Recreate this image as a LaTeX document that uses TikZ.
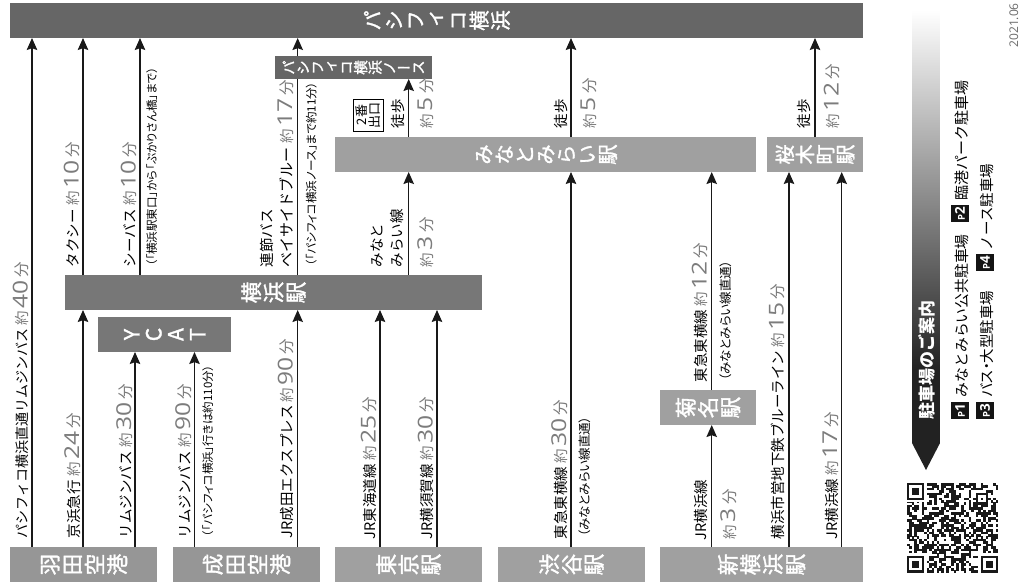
\documentclass[tikz,border=0pt]{standalone}
\usepackage{fontspec}
\usepackage{graphicx}
\setmainfont{Noto Sans CJK JP}
\newfontfamily\vertfont[RawFeature={+vert},FakeBold=1.5]{Noto Sans CJK JP}
\newfontfamily\notefont[RawFeature={+palt}]{Noto Sans CJK JP}
\newfontfamily\numfont[FakeStretch=1.2]{Open Sans}
\newfontfamily\datefont{Open Sans}
\definecolor{topbar}{HTML}{666666}
\definecolor{midbar}{HTML}{777777}
\definecolor{airbar}{HTML}{969696}
\definecolor{stabar}{HTML}{A0A0A0}
\definecolor{timegray}{HTML}{7C7C7C}
\definecolor{gdark}{HTML}{222222}
\pgfdeclareverticalshading{guideshade}{100bp}{color(0bp)=(gdark);color(25bp)=(gdark);color(36bp)=(gdark);color(75bp)=(white);color(100bp)=(white)}
\usetikzlibrary{arrows.meta}
\makeatletter
\newcommand{\vt}[2]{\@tfor\vch:=#2\do{\makebox[#1]{\rotatebox{90}{\rule[-0.12em]{0pt}{1em}\makebox[1em]{\vch}}}}}
\makeatother
\newcommand{\fs}[1]{\fontsize{#1pt}{#1pt}\selectfont}
\newcommand{\tm}[1]{{\color{timegray}\fs{14.5}約\kern2.5pt{\numfont\fs{20.5}#1}\kern3pt{\fs{15.5}分}}}
\tikzset{
  barbox/.style={inner sep=0pt,outer sep=0pt,text=white,font=\vertfont},
  conn/.style={line width=1.3pt,draw=black!90,-{Stealth[length=12pt,width=10.5pt,inset=1.8pt]}},
  plainconn/.style={line width=1.3pt,draw=black!90},
  lab/.style={rotate=90,anchor=base west,inner sep=0pt,outer sep=0pt,font=\fs{14.5}},
  notelab/.style={rotate=90,anchor=base west,inner sep=0pt,outer sep=0pt,font=\notefont\fs{11.5}},
  pchip/.style={rotate=90,fill=black!92,text=white,inner sep=0pt,minimum width=17pt,minimum height=18pt,font=\datefont\bfseries\fs{13.5}},
}
\newcommand{\lnk}[3]{\draw[conn] (#1,0 |- #2.north) -- (#1,0 |- #3.south);}
\newcommand{\lbl}[4]{\node[lab] (#1) at (#2,#3) {#4};}
\newcommand{\nte}[4]{\node[notelab] (#1) at (#2,#3) {#4};}
\newcommand{\pk}[1]{{\fs{9.5}P}#1}
\begin{document}
\begin{tikzpicture}[x=1pt,y=-1pt]
\useasboundingbox[fill=white] (0,0) rectangle (1019,582);
% bars
\node[barbox,fill=topbar,minimum width=853pt,minimum height=35pt] (pacifico) at (436.5,20.5) {\fs{20.5}\vt{21.3pt}{パシフィコ横浜}};
\node[barbox,fill=topbar,minimum width=157pt,minimum height=23pt] (north) at (353.5,67.5) {\fs{14.5}\vt{14.4pt}{パシフィコ横浜ノース}};
\node[barbox,fill=midbar,minimum width=417pt,minimum height=35pt] (yokohama) at (273.5,292.5) {\fs{21.5}\vt{22.3pt}{横浜駅}};
\node[barbox,fill=midbar,minimum width=133pt,minimum height=35pt] (ycat) at (164.5,334.5) {\fs{21}\vt{22pt}{YCAT}};
\node[barbox,fill=airbar,minimum width=147pt,minimum height=35pt] (haneda) at (83.5,564.5) {\fs{21.5}\vt{22.5pt}{羽田空港}};
\node[barbox,fill=airbar,minimum width=147pt,minimum height=35pt] (narita) at (246.5,564.5) {\fs{21.5}\vt{22.5pt}{成田空港}};
\node[barbox,fill=stabar,minimum width=147pt,minimum height=35pt] (tokyo) at (408.5,564.5) {\fs{21.5}\vt{22.3pt}{東京駅}};
\node[barbox,fill=stabar,minimum width=147pt,minimum height=35pt] (shibuya) at (571.5,564.5) {\fs{21.5}\vt{22.3pt}{渋谷駅}};
\node[barbox,fill=stabar,minimum width=203pt,minimum height=35pt] (shinyoko) at (761.5,564.5) {\fs{21.5}\vt{22.5pt}{新横浜駅}};
\node[barbox,fill=stabar,minimum width=96pt,minimum height=35pt] (kikuna) at (708,407.5) {\fs{21.5}\vt{22.3pt}{菊名駅}};
\node[barbox,fill=stabar,minimum width=421pt,minimum height=35pt] (minato) at (545.5,154.5) {\fs{20.5}\vt{20.7pt}{みなとみらい駅}};
\node[barbox,fill=stabar,minimum width=96pt,minimum height=35pt] (sakuragi) at (815,154.5) {\fs{20}\vt{20.2pt}{桜木町駅}};
% connectors
\lnk{32}{haneda}{pacifico}
\lnk{83}{yokohama}{pacifico}
\lnk{140}{yokohama}{pacifico}
\draw[plainconn] (297.7,0 |- yokohama.north) -- (297.7,0 |- north.south);
\lnk{297.7}{north}{pacifico}
\lnk{408.7}{minato}{north}
\lnk{571}{minato}{pacifico}
\lnk{815}{sakuragi}{pacifico}
\lnk{408.7}{yokohama}{minato}
\lnk{571}{shibuya}{minato}
\lnk{711.7}{kikuna}{minato}
\lnk{711.7}{shinyoko}{kikuna}
\lnk{789}{shinyoko}{sakuragi}
\lnk{841.7}{shinyoko}{sakuragi}
\lnk{83}{haneda}{yokohama}
\lnk{135}{haneda}{ycat}
\lnk{194.5}{narita}{ycat}
\lnk{297.7}{narita}{yokohama}
\lnk{380}{tokyo}{yokohama}
\lnk{437}{tokyo}{yokohama}
% labels
\lbl{l1}{27.5}{538}{\fs{14}パシフィコ横浜直通リムジンバス \tm{40}}
\lbl{l2}{78.5}{267}{タクシー \tm{10}}
\lbl{l3}{135.5}{267}{シーバス \tm{10}}
\nte{n3}{156}{266}{（「横浜駅東口」から「ぷかりさん橋」まで）}
\lbl{l4a}{272}{267}{連節バス}
\lbl{l4b}{292}{267}{\fs{15}ベイサイドブルー \tm{17}}
\nte{n4}{315.5}{266}{（「パシフィコ横浜ノース」まで約11分）}
\lbl{l5}{79}{538}{京浜急行 \tm{24}}
\lbl{l6}{131}{538}{リムジンバス \tm{30}}
\lbl{l7}{190}{538}{リムジンバス \tm{90}}
\nte{n7}{212}{537}{（「パシフィコ横浜」行きは約110分）}
\lbl{l8}{292.5}{538}{JR成田エクスプレス \tm{90}}
\lbl{l9a}{382}{267}{みなと}
\lbl{l9b}{402.5}{267}{みらい線}
\lbl{l9c}{432}{267}{\tm{3}}
\node[rotate=90,draw=black,line width=0.7pt,fill=white,inner sep=0pt,minimum width=32pt,minimum height=30pt,align=center,font=\fs{13}] (exit2) at (368,115) {\baselineskip=13pt 2番\\出口};
\lbl{l10a}{403}{128}{徒歩}
\lbl{l10b}{432}{128}{\tm{5}}
\lbl{l11a}{566}{128}{徒歩}
\lbl{l11b}{595}{128}{\tm{5}}
\lbl{l12a}{809}{128}{徒歩}
\lbl{l12b}{838.5}{128}{\tm{12}}
\lbl{l13}{375.5}{539}{JR東海道線 \tm{25}}
\lbl{l14}{432.5}{539}{JR横須賀線 \tm{30}}
\lbl{l15}{566}{539}{東急東横線 \tm{30}}
\node[notelab,font=\notefont\fs{12.5}] (n15) at (589,537) {（みなとみらい線直通）};
\lbl{l16}{706.5}{540}{JR横浜線}
\lbl{l16b}{735}{539}{\tm{3}}
\lbl{l17}{706.5}{382}{東急東横線 \tm{12}}
\node[notelab,font=\notefont\fs{12.5}] (n17) at (730,381) {（みなとみらい線直通）};
\lbl{l18}{783.5}{539}{横浜市営地下鉄ブルーライン \tm{15}}
\lbl{l19}{837}{539}{JR横浜線 \tm{17}}
% guide panel
\shade[shading=guideshade] (912,10) -- (940,10) -- (940,443) -- (926,470) -- (912,443) -- cycle;
\node[rotate=90,anchor=base west,inner sep=0pt,text=white,font=\bfseries\fs{17}] (guide) at (933.5,420) {駐車場のご案内};
\node[pchip] (p1) at (960,410.5) {\pk{1}};
\node[pchip] (p2) at (960,213.5) {\pk{2}};
\node[pchip] (p3) at (985,410.5) {\pk{3}};
\node[pchip] (p4) at (985,262.5) {\pk{4}};
\lbl{t1}{967}{397}{\fs{14.8}みなとみらい公共駐車場}
\lbl{t2}{967}{200}{\fs{15}臨港パーク駐車場}
\node[lab,font=\notefont\fs{14.5}] (t3) at (992,397) {バス・大型駐車場};
\lbl{t4}{992}{250}{ノース駐車場}
\node[rotate=90,anchor=base east,inner sep=0pt,text=black!58,font=\datefont\fs{12}] (date) at (1018,3) {2021.06};
% QR
\pgfmathsetseed{4711}
\foreach \i in {0,...,36}{\foreach \j in {0,...,36}{%
  \pgfmathparse{rnd>0.5?1:0}%
  \ifnum\pgfmathresult=1 \fill[black!90] ({907+\i*2.46},{483+\j*2.43}) rectangle ({907+(\i+1)*2.46+0.1},{483+(\j+1)*2.43+0.1});\fi
}}
\foreach \ox/\oy in {0/0,0/29,29/29}{%
  \fill[white] ({907+\ox*2.46},{483+\oy*2.43}) rectangle ({907+(\ox+8)*2.46},{483+(\oy+8)*2.43});
}
\foreach \ox/\oy in {0/0,0/30,30/30}{%
  \fill[black!90] ({907+\ox*2.46},{483+\oy*2.43}) rectangle ({907+(\ox+7)*2.46},{483+(\oy+7)*2.43});
  \fill[white] ({907+(\ox+1)*2.46},{483+(\oy+1)*2.43}) rectangle ({907+(\ox+6)*2.46},{483+(\oy+6)*2.43});
  \fill[black!90] ({907+(\ox+2)*2.46},{483+(\oy+2)*2.43}) rectangle ({907+(\ox+5)*2.46},{483+(\oy+5)*2.43});
}
\foreach \ox/\oy in {28/4}{%
  \fill[black!90] ({907+\ox*2.46},{483+\oy*2.43}) rectangle ({907+(\ox+5)*2.46},{483+(\oy+5)*2.43});
  \fill[white] ({907+(\ox+1)*2.46},{483+(\oy+1)*2.43}) rectangle ({907+(\ox+4)*2.46},{483+(\oy+4)*2.43});
  \fill[black!90] ({907+(\ox+2)*2.46},{483+(\oy+2)*2.43}) rectangle ({907+(\ox+3)*2.46},{483+(\oy+3)*2.43});
}
\end{tikzpicture}
\end{document}
